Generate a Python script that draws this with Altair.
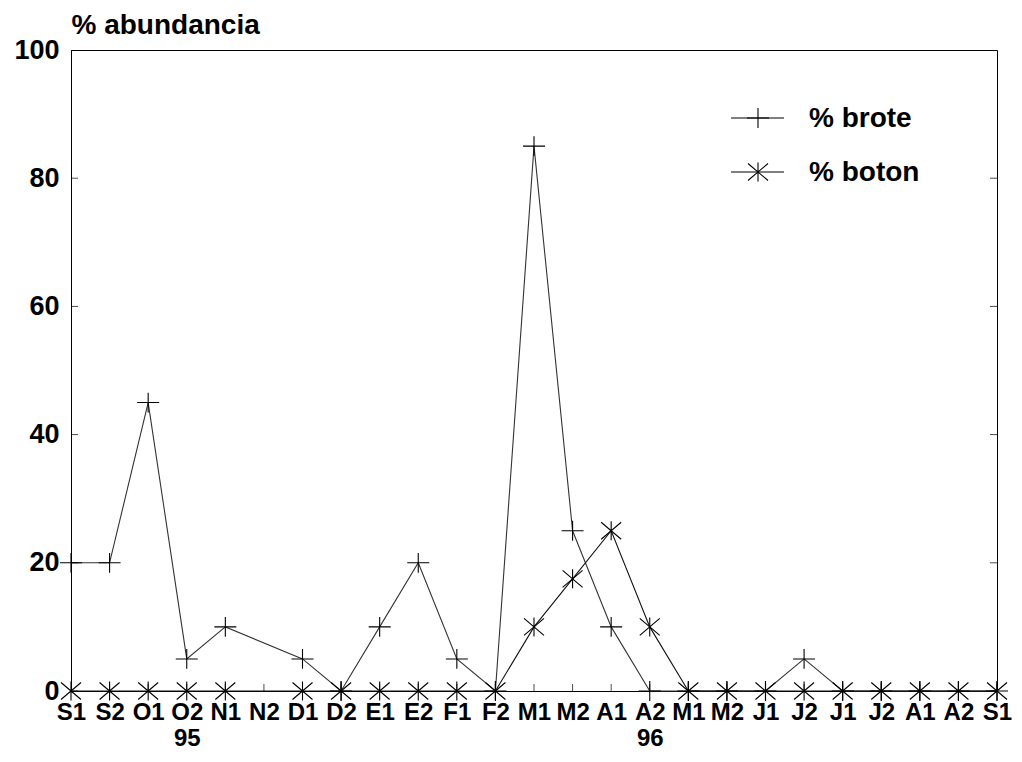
import json
import altair as alt
import pandas as pd

# ---------------- data ----------------
labels = ["S1", "S2", "O1", "O2", "N1", "N2", "D1", "D2", "E1", "E2", "F1", "F2",
          "M1", "M2", "A1", "A2", "M1", "M2", "J1", "J2", "J1", "J2", "A1", "A2", "S1"]
year_labels = {3: "95", 15: "96"}
series_names = ["% brote", "% boton"]
brote = [20, 20, 45, 5, 10, None, 5, 0, 10, 20, 5, 0,
         85, 25, 10, 0, 0, 0, 0, 5, 0, 0, 0, 0, 0]
boton = [0, 0, 0, 0, 0, None, 0, 0, 0, 0, 0, 0,
         10, 17.5, 25, 10, 0, 0, 0, 0, 0, 0, 0, 0, 0]
y_ticks = [0, 20, 40, 60, 80, 100]

rows = []
for name, vals in zip(series_names, [brote, boton]):
    for i, v in enumerate(vals):
        if v is not None:
            rows.append({"idx": i, "series": name, "value": v})
df = pd.DataFrame(rows)

# ---------------- styles ----------------
FONT = "Liberation Sans"
W, H = 926, 641
PLUS = "M-1,0L1,0M0,-0.9L0,0.9"
STAR = "M0,-0.95L0,0.95M-1,-0.85L1,0.85M-1,0.85L1,-0.85"
shape_scale = alt.Scale(domain=series_names, range=[PLUS, STAR])
size_scale = alt.Scale(domain=series_names, range=[484, 400])
color_scale = alt.Scale(domain=series_names, range=["#333333", "#111111"])

xscale = alt.Scale(domain=[0, len(labels) - 1], nice=False, zero=False)
yscale = alt.Scale(domain=[0, 100], nice=False)

year_expr = " : ".join(
    f"datum.value == {k} ? [{json.dumps(labels[k])}, {json.dumps(v)}]"
    for k, v in year_labels.items())
label_expr = year_expr + " : " + json.dumps(labels) + "[datum.value]"

x_axis = alt.Axis(values=list(range(len(labels))), labelExpr=label_expr,
                  title=None, grid=False, ticks=False, domain=True,
                  labelFontSize=24, labelFont=FONT, labelFontWeight="bold",
                  labelPadding=9, labelLineHeight=26, labelOverlap=False,
                  labelFlush=False, labelBound=False,
                  labelColor="black", domainColor="black")
y_axis = alt.Axis(values=y_ticks, title="% abundancia", grid=False, ticks=False,
                  labelFontSize=27, labelFont=FONT, labelFontWeight="bold",
                  labelPadding=12, labelColor="black", domainColor="black",
                  labelOverlap=False, labelFlush=False,
                  titleAngle=0, titleAlign="left", titleBaseline="alphabetic",
                  titleX=0, titleY=-17, titleFont=FONT, titleFontSize=28,
                  titleFontWeight="bold", titleColor="black")


def X(field):
    return alt.X(field, scale=xscale, axis=x_axis)


def Y(field):
    return alt.Y(field, scale=yscale, axis=y_axis)


base = alt.Chart(df)

lines = base.mark_line(strokeWidth=1.1).encode(
    x=X("idx:Q"),
    y=Y("value:Q"),
    color=alt.Color("series:N", scale=color_scale, legend=None),
    detail="series:N",
    order="idx:Q",
)

points = base.mark_point(filled=False, strokeWidth=1.1, opacity=1, color="black").encode(
    x=X("idx:Q"),
    y=Y("value:Q"),
    shape=alt.Shape("series:N", scale=shape_scale, legend=None),
    size=alt.Size("series:N", scale=size_scale, legend=None),
)

# inward ticks
xt = pd.DataFrame({"idx": list(range(len(labels))), "v": [0] * len(labels)})
x_ticks = alt.Chart(xt).mark_tick(orient="vertical", size=14, thickness=1,
                                  clip=True, color="black").encode(
    x=X("idx:Q"), y=Y("v:Q"))
yt = pd.DataFrame({"v": y_ticks, "l": [0] * len(y_ticks), "r": [len(labels) - 1] * len(y_ticks)})
y_ticks_l = alt.Chart(yt).mark_tick(orient="horizontal", size=14, thickness=1,
                                    clip=True, color="black").encode(
    x=X("l:Q"), y=Y("v:Q"))
y_ticks_r = alt.Chart(yt).mark_tick(orient="horizontal", size=14, thickness=1,
                                    clip=True, color="black").encode(
    x=X("r:Q"), y=Y("v:Q"))

# manual legend (top right, inside plot)
legend_layers = []
for i, name in enumerate(series_names):
    ly = 68 + 54 * i
    ldf = pd.DataFrame({"series": [name]})
    lb = alt.Chart(ldf)
    legend_layers.append(lb.mark_rule(strokeWidth=1.1, color="black").encode(
        x=alt.value(660), x2=alt.value(713), y=alt.value(ly)))
    legend_layers.append(lb.mark_point(filled=False, strokeWidth=1.1, opacity=1, color="black").encode(
        x=alt.value(687), y=alt.value(ly),
        shape=alt.Shape("series:N", scale=shape_scale, legend=None),
        size=alt.Size("series:N", scale=size_scale, legend=None)))
    legend_layers.append(lb.mark_text(align="left", baseline="middle", font=FONT,
                                      fontSize=28, fontWeight="bold", color="black").encode(
        x=alt.value(738), y=alt.value(ly + 1), text="series:N"))

chart = alt.layer(lines, points, x_ticks, y_ticks_l, y_ticks_r, *legend_layers).properties(
    width=W, height=H,
    autosize=alt.AutoSizeParams(type="none"),
    padding={"left": 63, "top": 42, "right": 17, "bottom": 62},
    background="white",
).configure_view(stroke="black", strokeWidth=1)

chart.save("out.html", embed_options={"renderer": "svg", "actions": False})
